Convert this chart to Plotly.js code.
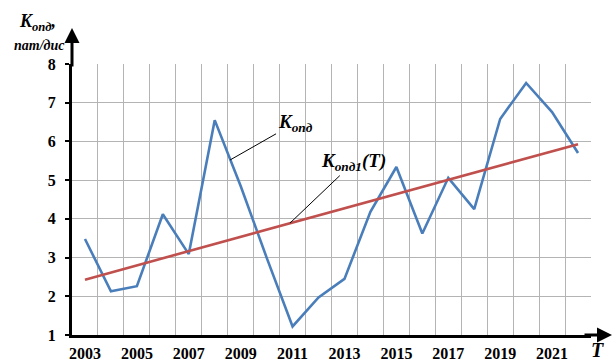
<!DOCTYPE html>
<html>
<head>
<meta charset="utf-8">
<script src="https://cdn.plot.ly/plotly-3.0.1.min.js"></script>
<style>html,body{margin:0;padding:0;background:#fff;}#chart{width:613px;height:363px;}</style>
</head>
<body>
<div id="chart"></div>
<script>
var years = [2003,2004,2005,2006,2007,2008,2009,2010,2011,2012,2013,2014,2015,2016,2017,2018,2019,2020,2021,2022];
var kopd = [3.48,2.13,2.26,4.12,3.09,6.55,4.85,3.0,1.22,1.97,2.45,4.18,5.34,3.62,5.06,4.25,6.58,7.51,6.76,5.70];
var trendYears = [2003, 2022];
var trendVals = [2.43, 5.93];
var xTickVals = [2003,2005,2007,2009,2011,2013,2015,2017,2019,2021];
var xTickText = ['2003','2005','2007','2009','2011','2013','2015','2017','2019','2021'];
var yTickVals = [1,2,3,4,5,6,7,8];

var serif = 'Liberation Serif, Times New Roman, serif';
var traces = [
  {x: years, y: kopd, type: 'scatter', mode: 'lines', line: {color: '#4a7ebb', width: 2.6}, hoverinfo: 'none', cliponaxis: false},
  {x: trendYears, y: trendVals, type: 'scatter', mode: 'lines', line: {color: '#c0504d', width: 2.6}, hoverinfo: 'none'}
];
var layout = {
  width: 613, height: 363,
  margin: {l: 72, r: 22, t: 64, b: 28},
  paper_bgcolor: '#fff', plot_bgcolor: '#fff',
  showlegend: false,
  font: {family: serif, color: '#000'},
  xaxis: {
    range: [2002.5, 2022.5], tickvals: xTickVals, ticktext: xTickText,
    showgrid: false, zeroline: false, showline: true, linewidth: 3, linecolor: '#000',
    ticks: '', ticklabelstandoff: 2,
    tickfont: {family: serif, size: 16, color: '#000', weight: 'bold'},
    minor: {tick0: 2002.5, dtick: 1, showgrid: true, gridcolor: '#b4b4b4', gridwidth: 1, ticks: ''}
  },
  yaxis: {
    range: [1, 8], tickvals: yTickVals,
    showgrid: true, gridcolor: '#b4b4b4', gridwidth: 1, zeroline: false, showline: true, linewidth: 3, linecolor: '#000',
    ticks: 'outside', ticklen: 4, tickwidth: 2, tickcolor: '#000', ticklabelstandoff: 6,
    tickfont: {family: serif, size: 16, color: '#000', weight: 'bold'}
  },
  annotations: [
    {x: 0, y: 1.1328, xref: 'paper', yref: 'paper', text: '', showarrow: true, arrowhead: 2, arrowsize: 1, arrowwidth: 3, arrowcolor: '#000', ax: 0, ay: 40, axref: 'pixel', ayref: 'pixel'},
    {x: 1.0424, y: 0, xref: 'paper', yref: 'paper', text: '', showarrow: true, arrowhead: 2, arrowsize: 1, arrowwidth: 3, arrowcolor: '#000', ax: -30, ay: 0},
    {x: 2008.59, y: 5.52, xref: 'x', yref: 'y', text: '<b><i>K<sub>опд</sub></i></b>', showarrow: true, arrowhead: 0, arrowwidth: 1, arrowcolor: '#000', ax: 65, ay: -37, font: {family: serif, size: 19, color: '#000'}},
    {x: 2010.9, y: 3.89, xref: 'x', yref: 'y', text: '<b><i>K<sub>опд1</sub>(T)</i></b>', showarrow: true, arrowhead: 0, arrowwidth: 1, arrowcolor: '#000', ax: 64, ay: -61, font: {family: serif, size: 19, color: '#000'}},
    {x: 2002.5, y: 8.0, xref: 'x', yref: 'y', text: '<b><i>K<sub>опд</sub>,</i></b>', showarrow: false, xanchor: 'right', yanchor: 'middle', xshift: -14, yshift: 42, font: {family: serif, size: 18, color: '#000'}},
    {x: 2002.5, y: 8.0, xref: 'x', yref: 'y', text: '<b><i>пат/дис</i></b>', showarrow: false, xanchor: 'right', yanchor: 'middle', xshift: -5, yshift: 19, font: {family: serif, size: 14, color: '#000'}},
    {x: 1.0116, y: -0.055, xref: 'paper', yref: 'paper', text: '<b><i>T</i></b>', showarrow: false, xanchor: 'center', yanchor: 'middle', font: {family: serif, size: 20, color: '#000'}}
  ]
};
Plotly.newPlot('chart', traces, layout, {displayModeBar: false, staticPlot: true});
</script>
</body>
</html>
